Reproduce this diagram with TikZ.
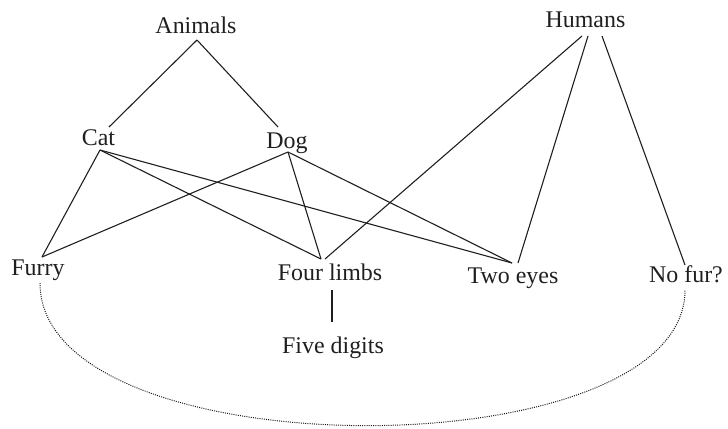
\documentclass[tikz,border=0pt]{standalone}
\usepackage{fontspec}
\setmainfont{Liberation Serif}
\usetikzlibrary{calc}
\begin{document}
\begin{tikzpicture}[x=1bp,y=-1bp,
  lbl/.style={anchor=base,inner sep=0pt,font=\fontsize{24}{28}\selectfont,text=black!88},
  link/.style={line width=1.1pt,draw=black!88},
  dotlink/.style={line width=1pt,draw=black!90,dash pattern=on 1pt off 1.2pt}]
\useasboundingbox (0,0) rectangle (728,428);
\node[lbl] (animals) at (196,33) {Animals};
\node[lbl] (cat) at (98.5,145) {Cat};
\node[lbl] (dog) at (287,148) {Dog};
\node[lbl] (humans) at (585.5,27) {Humans};
\node[lbl] (furry) at (38,275) {Furry};
\node[lbl] (four) at (330,280) {Four limbs};
\node[lbl] (five) at (333,353) {Five digits};
\node[lbl] (two) at (513,283) {Two eyes};
\node[lbl] (nofur) at (686,282) {No fur?};
% Animals
\draw[link] ($(animals.base)+(1,7)$) -- ($(cat.base)+(10.5,-18)$);
\draw[link] ($(animals.base)+(1,7)$) -- ($(dog.base)+(-9,-21)$);
% Cat
\draw[link] ($(cat.base)+(1.5,5)$) -- ($(furry.base)+(4,-18)$);
\draw[link] ($(cat.base)+(1.5,5)$) -- ($(four.base)+(-9,-21)$);
\draw[link] ($(cat.base)+(1.5,5)$) -- ($(two.base)+(-1,-20)$);
% Dog
\draw[link] ($(dog.base)+(1,4)$) -- ($(furry.base)+(4,-18)$);
\draw[link] ($(dog.base)+(1,4)$) -- ($(four.base)+(-9,-21)$);
\draw[link] ($(dog.base)+(1,4)$) -- ($(two.base)+(-1,-20)$);
% Humans
\draw[link] ($(humans.base)+(-3.5,9)$) -- ($(four.base)+(-5,-21)$);
\draw[link] ($(humans.base)+(2.5,9)$) -- ($(two.base)+(5,-20)$);
\draw[link] ($(humans.base)+(16.5,9)$) -- ($(nofur.base)+(-1,-17)$);
% Four limbs - Five digits
\draw[link] ($(four.base)+(2,10)$) -- ($(five.base)+(-1,-31)$);
% dotted curve
\draw[dotlink] ($(furry.base)+(2,8)$) .. controls (40,472) and (685,472) .. ($(nofur.base)+(-1,8)$);
\end{tikzpicture}
\end{document}
